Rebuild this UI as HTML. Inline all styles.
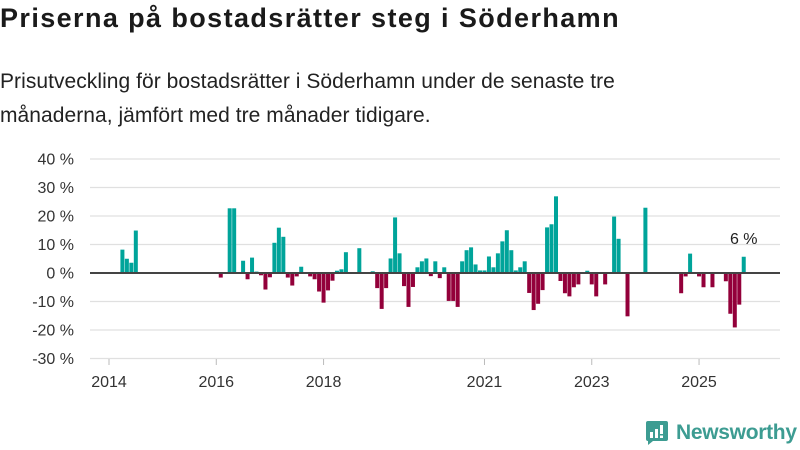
<!DOCTYPE html>
<html><head><meta charset="utf-8">
<style>
body{margin:0;width:800px;height:450px;background:#fff;font-family:"Liberation Sans",sans-serif;overflow:hidden;position:relative}
h1{position:absolute;left:0;top:3px;margin:0;font-size:27px;font-weight:bold;color:#1a1a1a;letter-spacing:1.4px}
.sub{position:absolute;left:0;top:65px;margin:0;font-size:21px;line-height:34px;color:#222;letter-spacing:0.05px}
svg{position:absolute;left:0;top:0}
</style></head><body>
<h1>Priserna på bostadsrätter steg i Söderhamn</h1>
<p class="sub">Prisutveckling för bostadsrätter i Söderhamn under de senaste tre<br>månaderna, jämfört med tre månader tidigare.</p>
<svg id="chart" width="800" height="450"></svg>
<div style="position:absolute;left:645px;top:420px;display:flex;align-items:center">
<svg width="24" height="26" viewBox="0 0 24 26" style="position:static"><path d="M3 1h18a2 2 0 0 1 2 2v16a2 2 0 0 1-2 2H8l-5 4v-4a2 2 0 0 1-2-2V3a2 2 0 0 1 2-2z" fill="#3d9c92"/><rect x="5" y="12" width="3" height="6" fill="#fff"/><rect x="10" y="9" width="3" height="9" fill="#fff"/><rect x="15" y="5" width="3" height="9" fill="#fff"/><rect x="15" y="15.5" width="3" height="2.5" fill="#fff"/></svg>
<span style="margin-left:7px;font-size:21px;color:#3d9c92;font-weight:bold;letter-spacing:-0.3px">Newsworthy</span></div>
<script>
const months=["2014-04","2014-05","2014-06","2014-07","2016-02","2016-04","2016-05","2016-07","2016-08","2016-09","2016-10","2016-11","2016-12","2017-01","2017-02","2017-03","2017-04","2017-05","2017-06","2017-07","2017-08","2017-10","2017-11","2017-12","2018-01","2018-02","2018-03","2018-04","2018-05","2018-06","2018-09","2018-12","2019-01","2019-02","2019-03","2019-04","2019-05","2019-06","2019-07","2019-08","2019-09","2019-10","2019-11","2019-12","2020-01","2020-02","2020-03","2020-04","2020-05","2020-06","2020-07","2020-08","2020-09","2020-10","2020-11","2020-12","2021-01","2021-02","2021-03","2021-04","2021-05","2021-06","2021-07","2021-08","2021-09","2021-10","2021-11","2021-12","2022-01","2022-02","2022-03","2022-04","2022-05","2022-06","2022-07","2022-08","2022-09","2022-10","2022-12","2023-01","2023-02","2023-04","2023-06","2023-07","2023-09","2024-01","2024-09","2024-10","2024-11","2025-01","2025-02","2025-04","2025-07","2025-08","2025-09","2025-10","2025-11"];
const values=[8.2,5.0,3.6,14.9,-1.6,22.7,22.7,4.3,-2.2,5.4,0.5,-0.8,-5.8,-1.5,10.6,15.9,12.7,-1.6,-4.4,-1.2,2.2,-1.2,-2.2,-6.5,-10.4,-6.1,-2.7,0.8,1.3,7.3,8.7,0.6,-5.3,-12.6,-5.3,5.1,19.5,6.9,-4.6,-11.9,-4.9,2.0,4.1,5.1,-1.1,4.1,-1.8,2.0,-9.8,-9.8,-11.9,4.1,8.0,9.0,3.0,0.9,0.9,5.8,2.0,6.9,11.1,15.0,8.0,0.9,2.0,4.1,-7.0,-13.0,-10.8,-6.0,16.0,17.1,26.9,-2.8,-7.1,-8.2,-5.0,-4.0,0.8,-4.0,-8.2,-4.0,19.8,12.0,-15.2,22.9,-7.1,-1.2,6.8,-1.2,-5.0,-5.0,-2.9,-14.3,-19.1,-11.1,5.7];
const yTicks=[40,30,20,10,0,-10,-20,-30];
const xTickYears=[2014,2016,2018,2021,2023,2025];
const NS="http://www.w3.org/2000/svg";
const svg=document.getElementById('chart');
function mi(s){const p=s.split('-');return (+p[0]-2014)*12+(+p[1]-1);}
function x(s){return 107+4.47*mi(s);}
function y(v){return 273-2.85*v;}
function el(t,a){const e=document.createElementNS(NS,t);for(const k in a)e.setAttribute(k,a[k]);svg.appendChild(e);return e;}
yTicks.forEach(t=>{
 const g=el('line',{x1:90,x2:780,y1:y(t),y2:y(t),stroke:'#e0e0e0','stroke-width':1.2});
 
 
 const l=el('text',{x:74,y:y(t)+5.5,'text-anchor':'end','font-size':16,fill:'#333','font-family':'Liberation Sans, sans-serif'});
 l.textContent=t+' %';
 
 
});
xTickYears.forEach(yr=>{
 const xx=x(yr+'-01')+2;
 const tk=el('line',{x1:xx,x2:xx,y1:359,y2:365,stroke:'#bbb'});
 
 
 const l=el('text',{x:xx,y:387,'text-anchor':'middle','font-size':16,fill:'#333','font-family':'Liberation Sans, sans-serif'});
 l.textContent=yr;
 
 
});
months.forEach((m,i)=>{
 const v=values[i];
 const r=el('rect',{x:x(m),width:4,y:Math.min(y(v),y(0)),height:Math.abs(y(v)-y(0)),fill:v>=0?'#00a49a':'#93003a'});
 
 
});
const z=el('line',{x1:90,x2:780,y1:y(0),y2:y(0),stroke:'#444','stroke-width':2});


const last=months.length-1;
const lab=el('text',{x:x(months[last])+2,y:y(values[last])-13,'text-anchor':'middle','font-size':16,fill:'#222','font-family':'Liberation Sans, sans-serif'});
lab.textContent=Math.round(values[last])+' %';


</script>
</body></html>
